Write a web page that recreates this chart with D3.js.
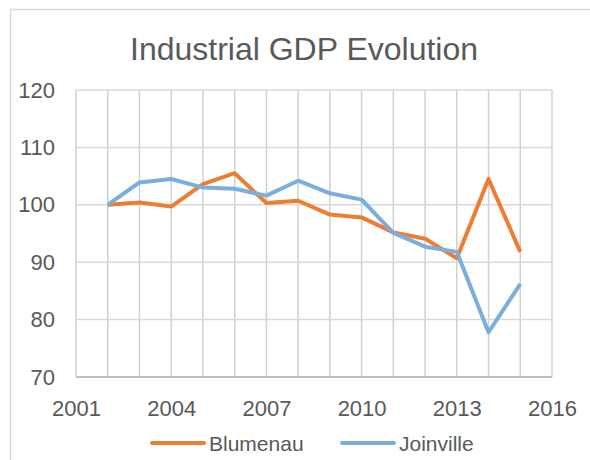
<!DOCTYPE html>
<html>
<head>
<meta charset="utf-8">
<script src="https://cdn.jsdelivr.net/npm/d3@7/dist/d3.min.js"></script>
<style>
  body { margin: 0; background: #fff; }
  text { font-family: "Liberation Sans", Arial, sans-serif; fill: #595959; }
</style>
</head>
<body>
<div id="chart"></div>
<script>
const years = [2002, 2003, 2004, 2005, 2006, 2007, 2008, 2009, 2010, 2011, 2012, 2013, 2014, 2015];
const blumenau = [100, 100.4, 99.7, 103.6, 105.5, 100.3, 100.7, 98.3, 97.8, 95.2, 94.1, 90.7, 104.5, 91.8];
const joinville = [100, 103.9, 104.5, 103.0, 102.8, 101.6, 104.2, 102.0, 100.9, 95.1, 92.7, 91.8, 77.8, 86.2];
const xTicks = [2001, 2004, 2007, 2010, 2013, 2016];
const yTicks = [70, 80, 90, 100, 110, 120];

const w = 590, h = 460;
const margin = { top: 90, right: 38, bottom: 83, left: 76 };

const svg = d3.select("#chart")
  .append("svg")
  .attr("width", w)
  .attr("height", h);

// outer chart border
svg.append("rect")
  .attr("x", 10.5).attr("y", 9.5)
  .attr("width", 620).attr("height", 500)
  .attr("fill", "none")
  .attr("stroke", "#d9d9d9")
  .attr("stroke-width", 1.5);

let x = d3.scaleLinear()
  .domain([2001, 2016])
  .range([margin.left, w - margin.right]);

let y = d3.scaleLinear()
  .domain([70, 120])
  .range([h - margin.bottom, margin.top]);

// gridlines
svg.append("g")
  .selectAll("line")
  .data(d3.range(2001, 2017))
  .enter()
  .append("line")
  .attr("x1", d => x(d)).attr("x2", d => x(d))
  .attr("y1", y(120)).attr("y2", y(70))
  .attr("stroke", "#d0d0d0")
  .attr("stroke-width", 1.5);

svg.append("g")
  .selectAll("line")
  .data(yTicks.slice(1))
  .enter()
  .append("line")
  .attr("x1", x(2001)).attr("x2", x(2016))
  .attr("y1", d => y(d)).attr("y2", d => y(d))
  .attr("stroke", "#d9d9d9")
  .attr("stroke-width", 1.5);

// axes (text only, no domain path)
let xAxis = svg.append("g")
  .attr("transform", `translate(0, ${y(70)})`)
  .call(d3.axisBottom(x).tickValues(xTicks).tickFormat(d3.format("d")).tickSize(0).tickPadding(23));
xAxis.select(".domain").remove();
xAxis.selectAll("text").style("font-size", "22px").attr("fill", "#595959");

let yAxis = svg.append("g")
  .attr("transform", `translate(${x(2001)}, 0)`)
  .call(d3.axisLeft(y).tickValues(yTicks).tickSize(0).tickPadding(21));
yAxis.select(".domain").remove();
yAxis.selectAll("text").style("font-size", "22px").attr("fill", "#595959");

// bottom axis line
svg.append("line")
  .attr("x1", x(2001)).attr("x2", x(2016))
  .attr("y1", y(70)).attr("y2", y(70))
  .attr("stroke", "#bfbfbf")
  .attr("stroke-width", 2);

// series
let series = [
  { name: "Blumenau", values: blumenau, color: "#ED7D31" },
  { name: "Joinville", values: joinville, color: "#7BAEDD" }
];

let line = d3.line()
  .x((d, i) => x(years[i]))
  .y(d => y(d));

svg.selectAll(".series")
  .data(series)
  .enter()
  .append("path")
  .attr("class", "series")
  .attr("d", d => line(d.values))
  .attr("fill", "none")
  .attr("stroke", d => d.color)
  .attr("stroke-width", 4)
  .attr("stroke-linejoin", "round");

// title
svg.append("text")
  .attr("x", 304)
  .attr("y", 60)
  .attr("text-anchor", "middle")
  .style("font-size", "32px")
  .text("Industrial GDP Evolution");

// legend
let legendX = [152, 342];
let legend = svg.selectAll(".legend")
  .data(series)
  .enter()
  .append("g")
  .attr("class", "legend")
  .attr("transform", (d, i) => `translate(${legendX[i]}, 443)`);

legend.append("line")
  .attr("x1", 0).attr("x2", 52)
  .attr("y1", 0).attr("y2", 0)
  .attr("stroke", d => d.color)
  .attr("stroke-width", 4)
  .attr("stroke-linecap", "round");

legend.append("text")
  .attr("x", 57)
  .attr("y", 7.5)
  .style("font-size", "21px")
  .text(d => d.name);
</script>
</body>
</html>
